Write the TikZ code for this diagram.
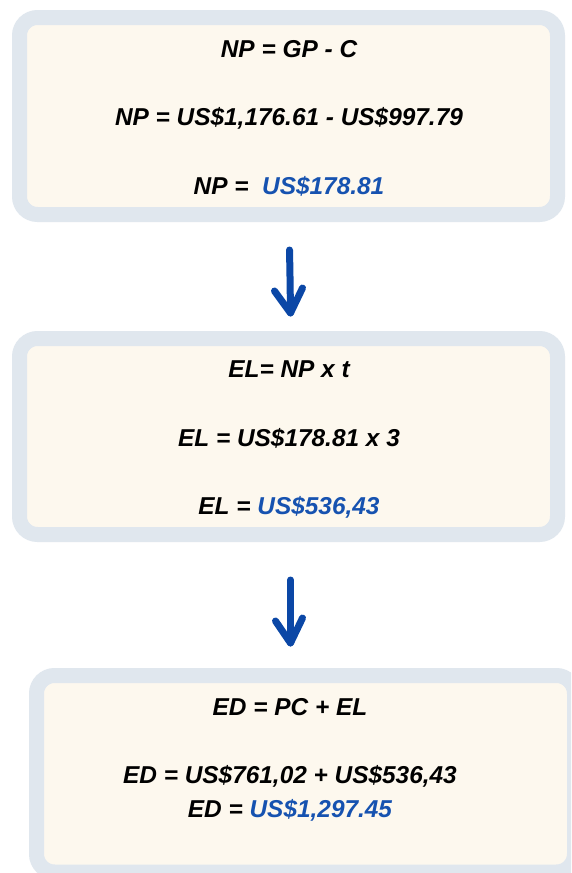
\documentclass[tikz,border=0pt]{standalone}
\usepackage{fontspec}
\setmainfont{Liberation Sans}
\definecolor{rim}{HTML}{E0E7EE}
\definecolor{cream}{HTML}{FDF8EE}
\definecolor{valblue}{HTML}{1652B0}
\definecolor{arrblue}{HTML}{0B47A6}
\begin{document}
\begin{tikzpicture}[x=1pt,y=-1pt,
  card/.style={draw=rim, line width=15pt, fill=cream, rounded corners=18pt, inner sep=0pt, outer sep=0pt},
  eq/.style={font=\fontsize{24.4}{29}\selectfont\bfseries\itshape, anchor=base, inner sep=0pt},
  val/.style={text=valblue},
  arr/.style={draw=arrblue, line width=7pt, line cap=round, line join=round}]
\useasboundingbox (0,0) rectangle (571,873);
\clip (0,0) rectangle (571,873);
\fill[white] (0,0) rectangle (571,873);
% cards
\node[card, minimum width=538pt, minimum height=197pt] (box1) at (288.5,116) {};
\node[card, minimum width=538pt, minimum height=196pt] (box2) at (288.5,436.5) {};
\node[card, minimum width=538pt, minimum height=196.5pt] (box3) at (305.5,773.75) {};
% texts box 1
\node[eq] (t11) at (289,57) {NP = GP - C};
\node[eq] (t12) at (289,125) {NP = US\$1,176.61 - US\$997.79};
\node[eq] (t13) at (289,194) {NP = \ \textcolor{valblue}{US\$178.81}};
% texts box 2
\node[eq] (t21) at (289,377) {EL= NP x t};
\node[eq] (t22) at (289,446) {EL = US\$178.81 x 3};
\node[eq] (t23) at (289,514) {EL = \textcolor{valblue}{US\$536,43}};
% texts box 3
\node[eq] (t31) at (290,715) {ED = PC + EL};
\node[eq] (t32) at (290,783) {ED = US\$761,02 + US\$536,43};
\node[eq] (t33) at (290,817) {ED = \textcolor{valblue}{US\$1,297.45}};
% arrows
\coordinate (a1top) at (289.5,250);
\coordinate (a1tip) at (290.5,313);
\coordinate (a1l) at (274.5,291);
\coordinate (a1r) at (302.5,288);
\draw[arr] (a1top) .. controls (290,275) .. (a1tip);
\draw[arr] (a1l) -- (a1tip) -- (a1r);
\coordinate (a2top) at (290.5,580);
\coordinate (a2tip) at (290.5,643);
\coordinate (a2l) at (275.5,621);
\coordinate (a2r) at (302.5,618);
\draw[arr] (a2top) .. controls (290.5,605) .. (a2tip);
\draw[arr] (a2l) -- (a2tip) -- (a2r);
\end{tikzpicture}
\end{document}
